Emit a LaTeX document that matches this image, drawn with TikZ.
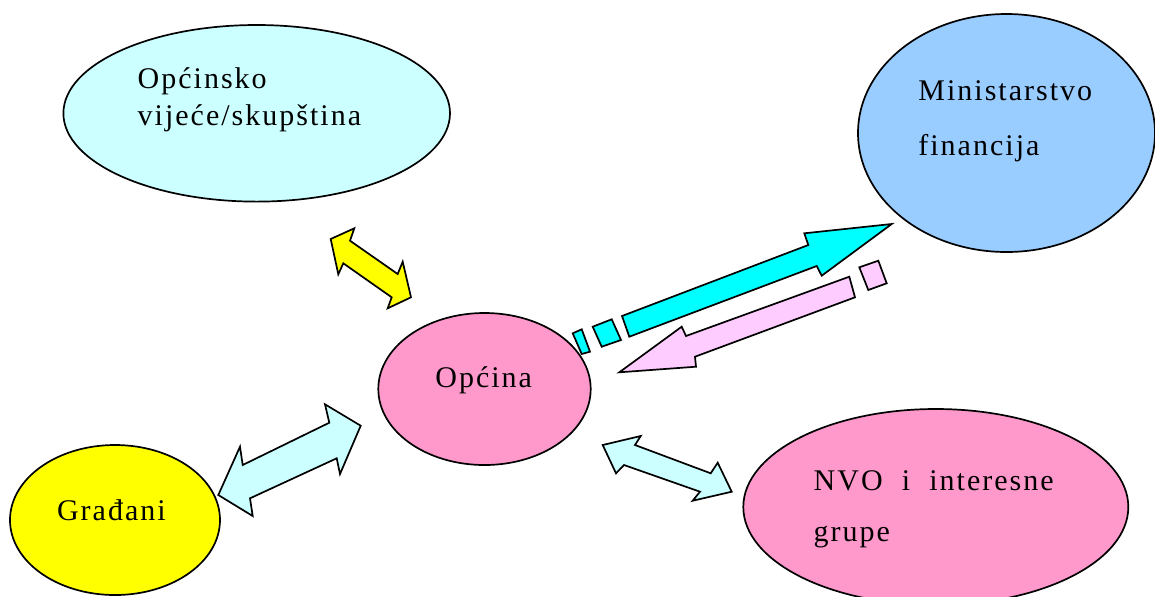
\documentclass[tikz,border=0pt]{standalone}
\usepackage{fontspec}
\setmainfont{Liberation Serif}[LetterSpace=6.7]
\usetikzlibrary{shapes.geometric}
\definecolor{cVij}{HTML}{CCFFFF}
\definecolor{cMin}{HTML}{99CCFF}
\definecolor{cPink}{HTML}{FF99CC}
\definecolor{cYel}{HTML}{FFFF00}
\definecolor{cCyan}{HTML}{00FFFF}
\definecolor{cLila}{HTML}{FFCCFF}
\tikzset{
  blob/.style={ellipse, draw=black, line width=0.85pt, inner sep=0pt},
  lbl/.style={anchor=base west, inner sep=0pt, font=\fontsize{15}{18}\selectfont},
  blockarrow/.style={draw=black, line width=0.85pt, line join=miter}
}
\begin{document}
\begin{tikzpicture}[x=0.5pt,y=-0.5pt]
\useasboundingbox (0,0) rectangle (1155,596);
% ellipses
\node[blob, fill=cVij, minimum width=193.3pt, minimum height=88.3pt] (vijece) at (256.7,113.3) {};
\node[blob, fill=cMin, minimum width=148.5pt, minimum height=119pt] (ministarstvo) at (1006.5,133) {};
\node[blob, fill=cPink, minimum width=106.2pt, minimum height=76pt] (opcina) at (484.5,389) {};
\node[blob, fill=cYel, minimum width=105pt, minimum height=75pt] (gradjani) at (115,520) {};
\node[blob, fill=cPink, minimum width=192.5pt, minimum height=98pt] (nvo) at (935.8,507) {};
% texts
\node[lbl] (t1) at (137.3,88.3) {Općinsko};
\node[lbl] (t2) at (137.3,125) {vijeće/skupština};
\node[lbl] (t3) at (918,100) {Ministarstvo};
\node[lbl] (t4) at (918,155) {financija};
\node[lbl] (t5) at (435,387.3) {Općina};
\node[lbl] (t6) at (56.7,520) {Građani};
\node[lbl] (t7) at (813.3,490) {\hbox to 120pt{NVO\hfill i\hfill interesne}};
\node[lbl] (t8) at (813.3,541) {grupe};
% yellow double arrow (vijece - opcina)
\draw[blockarrow, fill=cYel] (330.7,239) -- (354.3,228.3) -- (350,240.7) -- (397.7,274) -- (402.7,261.7) -- (411,297.3) -- (387.7,308.3) -- (391.7,297.3) -- (343.3,263.3) -- (338.3,274.3) -- cycle;
% light cyan double arrow (gradjani - opcina)
\draw[blockarrow, fill=cVij] (218.3,495) -- (240,446.7) -- (242.7,465) -- (329.3,422.7) -- (325,404.3) -- (360.7,425.7) -- (340,474) -- (336.7,458.3) -- (250,498.3) -- (252.7,516) -- cycle;
% light cyan double arrow (opcina - nvo)
\draw[blockarrow, fill=cVij] (602.7,445) -- (640.7,436) -- (635,445) -- (710.7,473.3) -- (717.7,462.7) -- (731.7,491.7) -- (692.7,500.7) -- (700,491.7) -- (624,465) -- (616,473.3) -- cycle;
% cyan striped arrow (opcina -> ministarstvo)
\draw[blockarrow, fill=cCyan] (572.7,333.3) -- (581.7,329.3) -- (590,351.7) -- (581.7,354) -- cycle;
\draw[blockarrow, fill=cCyan] (592.7,326.7) -- (611.7,319.3) -- (621,340) -- (601.7,346.7) -- cycle;
\draw[blockarrow, fill=cCyan] (629.3,336.7) -- (622,316) -- (808.3,245) -- (804.3,233.3) -- (891.7,224) -- (821.7,275.7) -- (816.7,266) -- cycle;
% pink striped arrow (ministarstvo -> opcina)
\draw[blockarrow, fill=cLila] (859.3,267.3) -- (878.3,260.7) -- (886.7,283.3) -- (868.3,290) -- cycle;
\draw[blockarrow, fill=cLila] (849.3,276.7) -- (855,297.3) -- (695,356.7) -- (696,366.7) -- (619.3,372.3) -- (681.7,326.7) -- (686,336) -- cycle;
\end{tikzpicture}
\end{document}
